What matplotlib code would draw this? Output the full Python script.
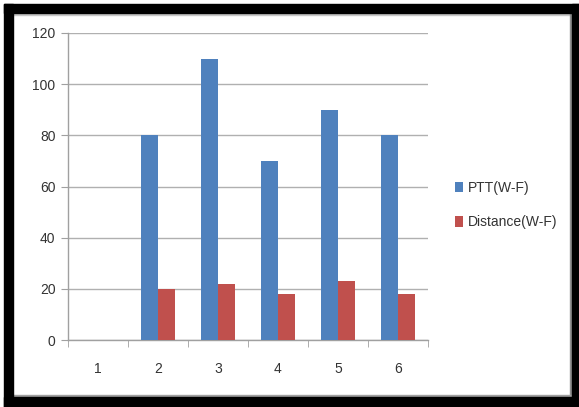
import numpy as np
import matplotlib.pyplot as plt
from matplotlib.patches import Rectangle

categories = ['1', '2', '3', '4', '5', '6']
ptt = [0, 80, 110, 70, 90, 80]
distance = [0, 20, 22, 18, 23, 18]
yticks = [0, 20, 40, 60, 80, 100, 120]

plt.rcParams['font.family'] = ['Liberation Sans', 'DejaVu Sans']

W, H = 579, 407
fig = plt.figure(figsize=(W / 100, H / 100), dpi=100)
fig.patch.set_facecolor('white')

ax = fig.add_axes([68 / W, 1 - 340 / H, 360 / W, 307 / H])

x = np.arange(len(categories))
w = 0.28
ax.bar(x - w / 2, ptt, width=w, color='#4F81BD', label='PTT(W-F)', zorder=3)
ax.bar(x + w / 2, distance, width=w, color='#C0504D', label='Distance(W-F)', zorder=3)

ax.set_xlim(-0.5, len(categories) - 0.5)
ax.set_ylim(0, 120)
ax.set_yticks(yticks)
ax.yaxis.grid(True, color='#B0B0B0', linewidth=1, zorder=0)

# category labels centred, tick marks between categories
ax.set_xticks(x)
ax.set_xticklabels(categories, fontsize=10, color='#333333')
ax.set_xticks(np.arange(len(categories) + 1) - 0.5, minor=True)
ax.tick_params(axis='x', which='major', length=0, pad=16)
ax.tick_params(axis='x', which='minor', length=5, color='#A0A0A0', direction='out')
ax.tick_params(axis='y', length=5, color='#A0A0A0', labelsize=10, labelcolor='#333333', pad=4)

for side in ['top', 'right']:
    ax.spines[side].set_visible(False)
for side in ['left', 'bottom']:
    ax.spines[side].set_color('#A0A0A0')
    ax.spines[side].set_linewidth(1)

ax.legend(loc='center left', bbox_to_anchor=(1.04, 0.44), frameon=False,
          handlelength=0.55, handleheight=0.75, handletextpad=0.35,
          labelspacing=1.5, fontsize=10, labelcolor='#333333')

# thick black frame around the chart
def fig_rect(x0, y0, x1, y1, color):
    fig.patches.append(Rectangle((x0 / W, 1 - y1 / H), (x1 - x0) / W, (y1 - y0) / H,
                                 transform=fig.transFigure, color=color, zorder=10))

fig_rect(13, 13, 572, 15, '#C8C8C8')
fig_rect(570, 13, 572, 397, '#909090')
fig_rect(13, 395, 572, 397, '#A0A0A0')
fig_rect(4, 4, 579, 13, 'black')
fig_rect(4, 4, 13, 407, 'black')
fig_rect(572, 4, 579, 407, 'black')
fig_rect(4, 397, 579, 407, 'black')

fig.savefig('out.png', dpi=100)
